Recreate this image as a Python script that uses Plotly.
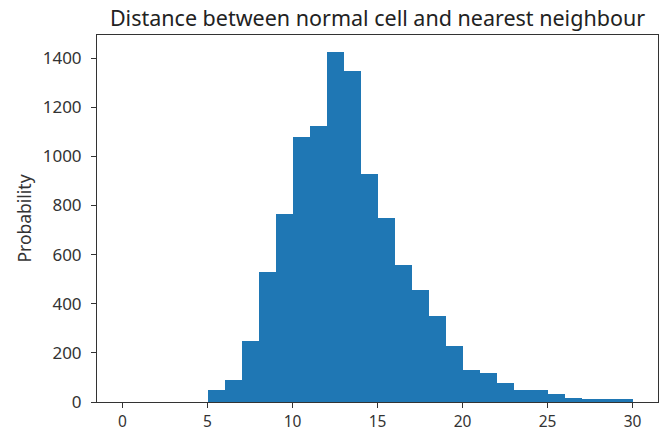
import plotly.graph_objects as go

bin_edges = list(range(0, 31))
counts = [0, 0, 0, 0, 0,
          48, 88, 248, 528, 765,
          1078, 1122, 1423, 1347, 929,
          749, 557, 455, 351, 229,
          131, 117, 76, 48, 48,
          34, 18, 12, 12, 12]
x_ticks = [0, 5, 10, 15, 20, 25, 30]
y_ticks = [0, 200, 400, 600, 800, 1000, 1200, 1400]
title_text = "Distance between normal cell and nearest neighbour"
y_label = "Probability"

centers = [(bin_edges[i] + bin_edges[i + 1]) / 2 for i in range(len(counts))]
widths = [bin_edges[i + 1] - bin_edges[i] for i in range(len(counts))]

FONT = "Noto Sans"
fig = go.Figure(go.Bar(x=centers, y=counts, width=widths,
                       marker=dict(color="#1f77b4", line=dict(width=0))))

xmin, xmax = bin_edges[0], bin_edges[-1]
pad = (xmax - xmin) * 0.05
ymax = max(counts) * 1.05

fig.update_layout(
    width=660, height=431,
    margin=dict(l=97, r=2, t=35, b=29),
    paper_bgcolor="white", plot_bgcolor="white",
    bargap=0, showlegend=False,
    font=dict(family=FONT, size=17, color="#333333"),
    title=dict(text=title_text, x=0.5, xref="paper", xanchor="center",
               y=1 - 18 / 431, yanchor="middle",
               font=dict(family=FONT, size=21.5, color="#222222")),
    xaxis=dict(range=[xmin - pad, xmax + pad], tickvals=x_ticks,
               ticks="outside", ticklen=5, tickcolor="#333333",
               tickfont=dict(size=15.5),
               ticklabelstandoff=0, automargin=False,
               showline=True, linecolor="#333333", linewidth=1, mirror=True,
               showgrid=False, zeroline=False),
    yaxis=dict(range=[0, ymax], tickvals=y_ticks,
               ticks="outside", ticklen=5, tickcolor="#333333",
               ticklabelstandoff=6, automargin=False,
               showline=True, linecolor="#333333", linewidth=1, mirror=True,
               showgrid=False, zeroline=False,
               title=dict(text=y_label, standoff=6,
                          font=dict(family=FONT, size=17.5, color="#333333"))),
)
fig.write_html("out.html")
